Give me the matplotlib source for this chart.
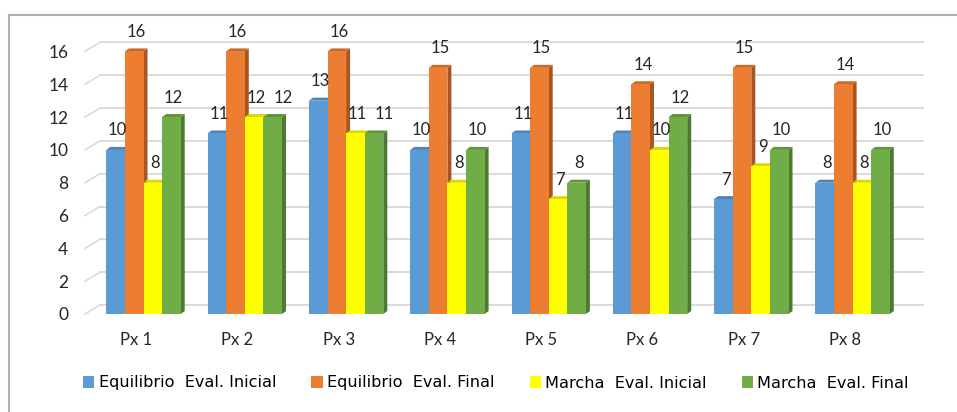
import matplotlib
matplotlib.use('Agg')
import matplotlib.pyplot as plt
from matplotlib.patches import Polygon, Patch
from matplotlib.lines import Line2D
import matplotlib.colors as mcolors

categories = ['Px 1', 'Px 2', 'Px 3', 'Px 4', 'Px 5', 'Px 6', 'Px 7', 'Px 8']
series_names = ['Equilibrio  Eval. Inicial', 'Equilibrio  Eval. Final',
                'Marcha  Eval. Inicial', 'Marcha  Eval. Final']
equil_ini = [10, 11, 13, 10, 11, 11, 7, 8]
equil_fin = [16, 16, 16, 15, 15, 14, 15, 14]
marcha_ini = [8, 12, 11, 8, 7, 10, 9, 8]
marcha_fin = [12, 12, 11, 10, 8, 12, 10, 10]
yticks = [0, 2, 4, 6, 8, 10, 12, 14, 16]

series = [equil_ini, equil_fin, marcha_ini, marcha_fin]
colors = ['#5b9bd5', '#ed7d31', '#ffff00', '#70ad47']

W, H = 957, 412
fig = plt.figure(figsize=(W / 100, H / 100), dpi=100)
ax_l, ax_r, ax_b, ax_t = 85, 923, 314, 35
ax = fig.add_axes([ax_l / W, 1 - ax_b / H, (ax_r - ax_l) / W, (ax_b - ax_t) / H])

x0_px = 136
spacing = 101.3
xmin = -(x0_px - ax_l) / spacing
xmax = (ax_r - x0_px) / spacing
ymin, ymax = 0, 17
ax.set_xlim(xmin, xmax)
ax.set_ylim(ymin, ymax)
xppu = (ax_r - ax_l) / (xmax - xmin)
yppu = (ax_b - ax_t) / (ymax - ymin)

# back-wall gridlines with perspective diagonals
gdx, gdy = 15 / xppu, 9 / yppu
for v in yticks:
    ax.plot([xmin, xmin + gdx], [v, v + gdy], color='#dadada', lw=1.2, zorder=1, clip_on=False)
    ax.plot([xmin + gdx, xmax], [v + gdy, v + gdy], color='#dadada', lw=1.4, zorder=1, clip_on=False)


def shade(c, f):
    r, g, b = mcolors.to_rgb(c)
    return (r * f, g * f, b * f)


w = 18.6 / xppu
dx, dy = 4 / xppu, 3 / yppu
offset = 7.5 / xppu
z = 3
for k, (vals, c) in enumerate(zip(series, colors)):
    xs = [i + offset + (k - 2) * w for i in range(len(categories))]
    ax.bar(xs, vals, width=w, align='edge', color=c, zorder=z + 2 * k + 1, linewidth=0)
    for i, (x0, h) in enumerate(zip(xs, vals)):
        side = Polygon([(x0 + w, 0), (x0 + w, h), (x0 + w + dx, h + dy), (x0 + w + dx, dy)],
                       closed=True, facecolor=shade(c, 0.7), edgecolor='none', zorder=z + 2 * k)
        top = Polygon([(x0, h), (x0 + w, h), (x0 + w + dx, h + dy), (x0 + dx, h + dy)],
                      closed=True, facecolor=shade(c, 0.85), edgecolor='none', zorder=z + 2 * k)
        ax.add_patch(side)
        ax.add_patch(top)
        nudge = 1.5
        if k > 0 and abs(series[k - 1][i] - h) < 1:
            nudge = 7.5
        ax.annotate(str(h), (x0 + w / 2, h), xytext=(nudge, 14), textcoords='offset points',
                    ha='center', va='center', fontsize=12, color='#262626',
                    family='Lato', zorder=20)

ax.set_xticks(range(len(categories)))
ax.set_xticklabels(categories, fontsize=12, family='Lato', color='#262626')
ax.set_yticks(yticks)
ax.set_yticklabels([str(t) for t in yticks], fontsize=12.5, family='Lato', color='#262626')
ax.tick_params(axis='both', length=0)
ax.tick_params(axis='x', pad=13)
ax.tick_params(axis='y', pad=12)
for s in ax.spines.values():
    s.set_visible(False)
ax.patch.set_alpha(0)

handles = [Patch(facecolor=c, edgecolor='none') for c in colors]
fig.legend(handles, series_names, loc='center', bbox_to_anchor=(496 / W, 1 - 383 / H),
           ncol=4, frameon=False, handlelength=0.7, handleheight=0.7,
           handletextpad=0.25, columnspacing=2.2, prop={'family': 'DejaVu Sans', 'size': 11.6})

# outer frame (top and left)
fig.add_artist(Line2D([9 / W, 1], [1 - 15 / H, 1 - 15 / H], color='#b0b0b0', lw=1.5))
fig.add_artist(Line2D([9 / W, 9 / W], [1 - 15 / H, 0], color='#b0b0b0', lw=1.5))

fig.savefig('out.png', dpi=100)
